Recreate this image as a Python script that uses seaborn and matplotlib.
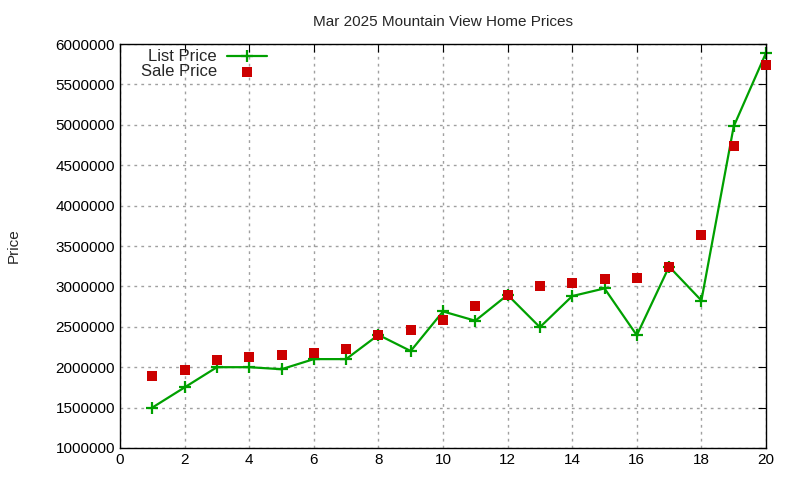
import pandas as pd
import matplotlib
matplotlib.use('Agg')
import matplotlib.pyplot as plt
import seaborn as sns

# Dados
months = list(range(1, 21))
list_price = [1500000, 1750000, 2000000, 2000000, 1975000, 2100000, 2100000, 2400000, 2200000, 2690000,
              2575000, 2895000, 2495000, 2880000, 2975000, 2395000, 3245000, 2825000, 4980000, 5890000]
sale_price = [1890000, 1960000, 2090000, 2120000, 2145000, 2170000, 2230000, 2400000, 2460000, 2590000,
              2760000, 2890000, 3010000, 3040000, 3090000, 3110000, 3240000, 3630000, 4740000, 5740000]
y_ticks = list(range(1000000, 6000001, 500000))
x_ticks = list(range(0, 21, 2))

df = pd.DataFrame({'Index': months, 'List Price': list_price, 'Sale Price': sale_price})

sns.set_style('white')
plt.rcParams['font.family'] = ['Liberation Sans', 'DejaVu Sans']

fig = plt.figure(figsize=(8, 4.8), dpi=100)
ax = fig.add_axes([0.15, 0.0667, 0.8075, 0.8416])

green = '#00a000'
red = '#cc0000'
sns.lineplot(x='Index', y='List Price', data=df, ax=ax, color=green, linewidth=1.6,
             marker='+', markersize=8, markeredgewidth=1.6, markeredgecolor=green,
             label='List Price', clip_on=False)
sns.scatterplot(x='Index', y='Sale Price', data=df, ax=ax, color=red, marker='s',
                s=48, linewidth=0, label='Sale Price', zorder=3, clip_on=False)

ax.set_xlim(0, 20)
ax.set_ylim(1000000, 6000000)
ax.set_xticks(x_ticks)
ax.set_yticks(y_ticks)
ax.ticklabel_format(style='plain', axis='y')
ax.grid(True, linestyle=(0, (2, 3)), color='#a0a0a0', linewidth=1)
ax.tick_params(direction='in', top=True, right=True, length=6, labelsize=11, colors='black')
for s in ax.spines.values():
    s.set_color('black')
    s.set_linewidth(1)

ax.set_title('Mar 2025 Mountain View Home Prices', fontsize=11, pad=13)
ax.set_xlabel('')
ax.set_ylabel('Price', fontsize=11, labelpad=25)

ax.legend(loc='upper right', bbox_to_anchor=(0.238, 1.003), frameon=False, markerfirst=False,
          fontsize=12, handlelength=2.4, handletextpad=0.6, labelspacing=0.0, borderaxespad=0)

plt.savefig('out.png', dpi=100)
